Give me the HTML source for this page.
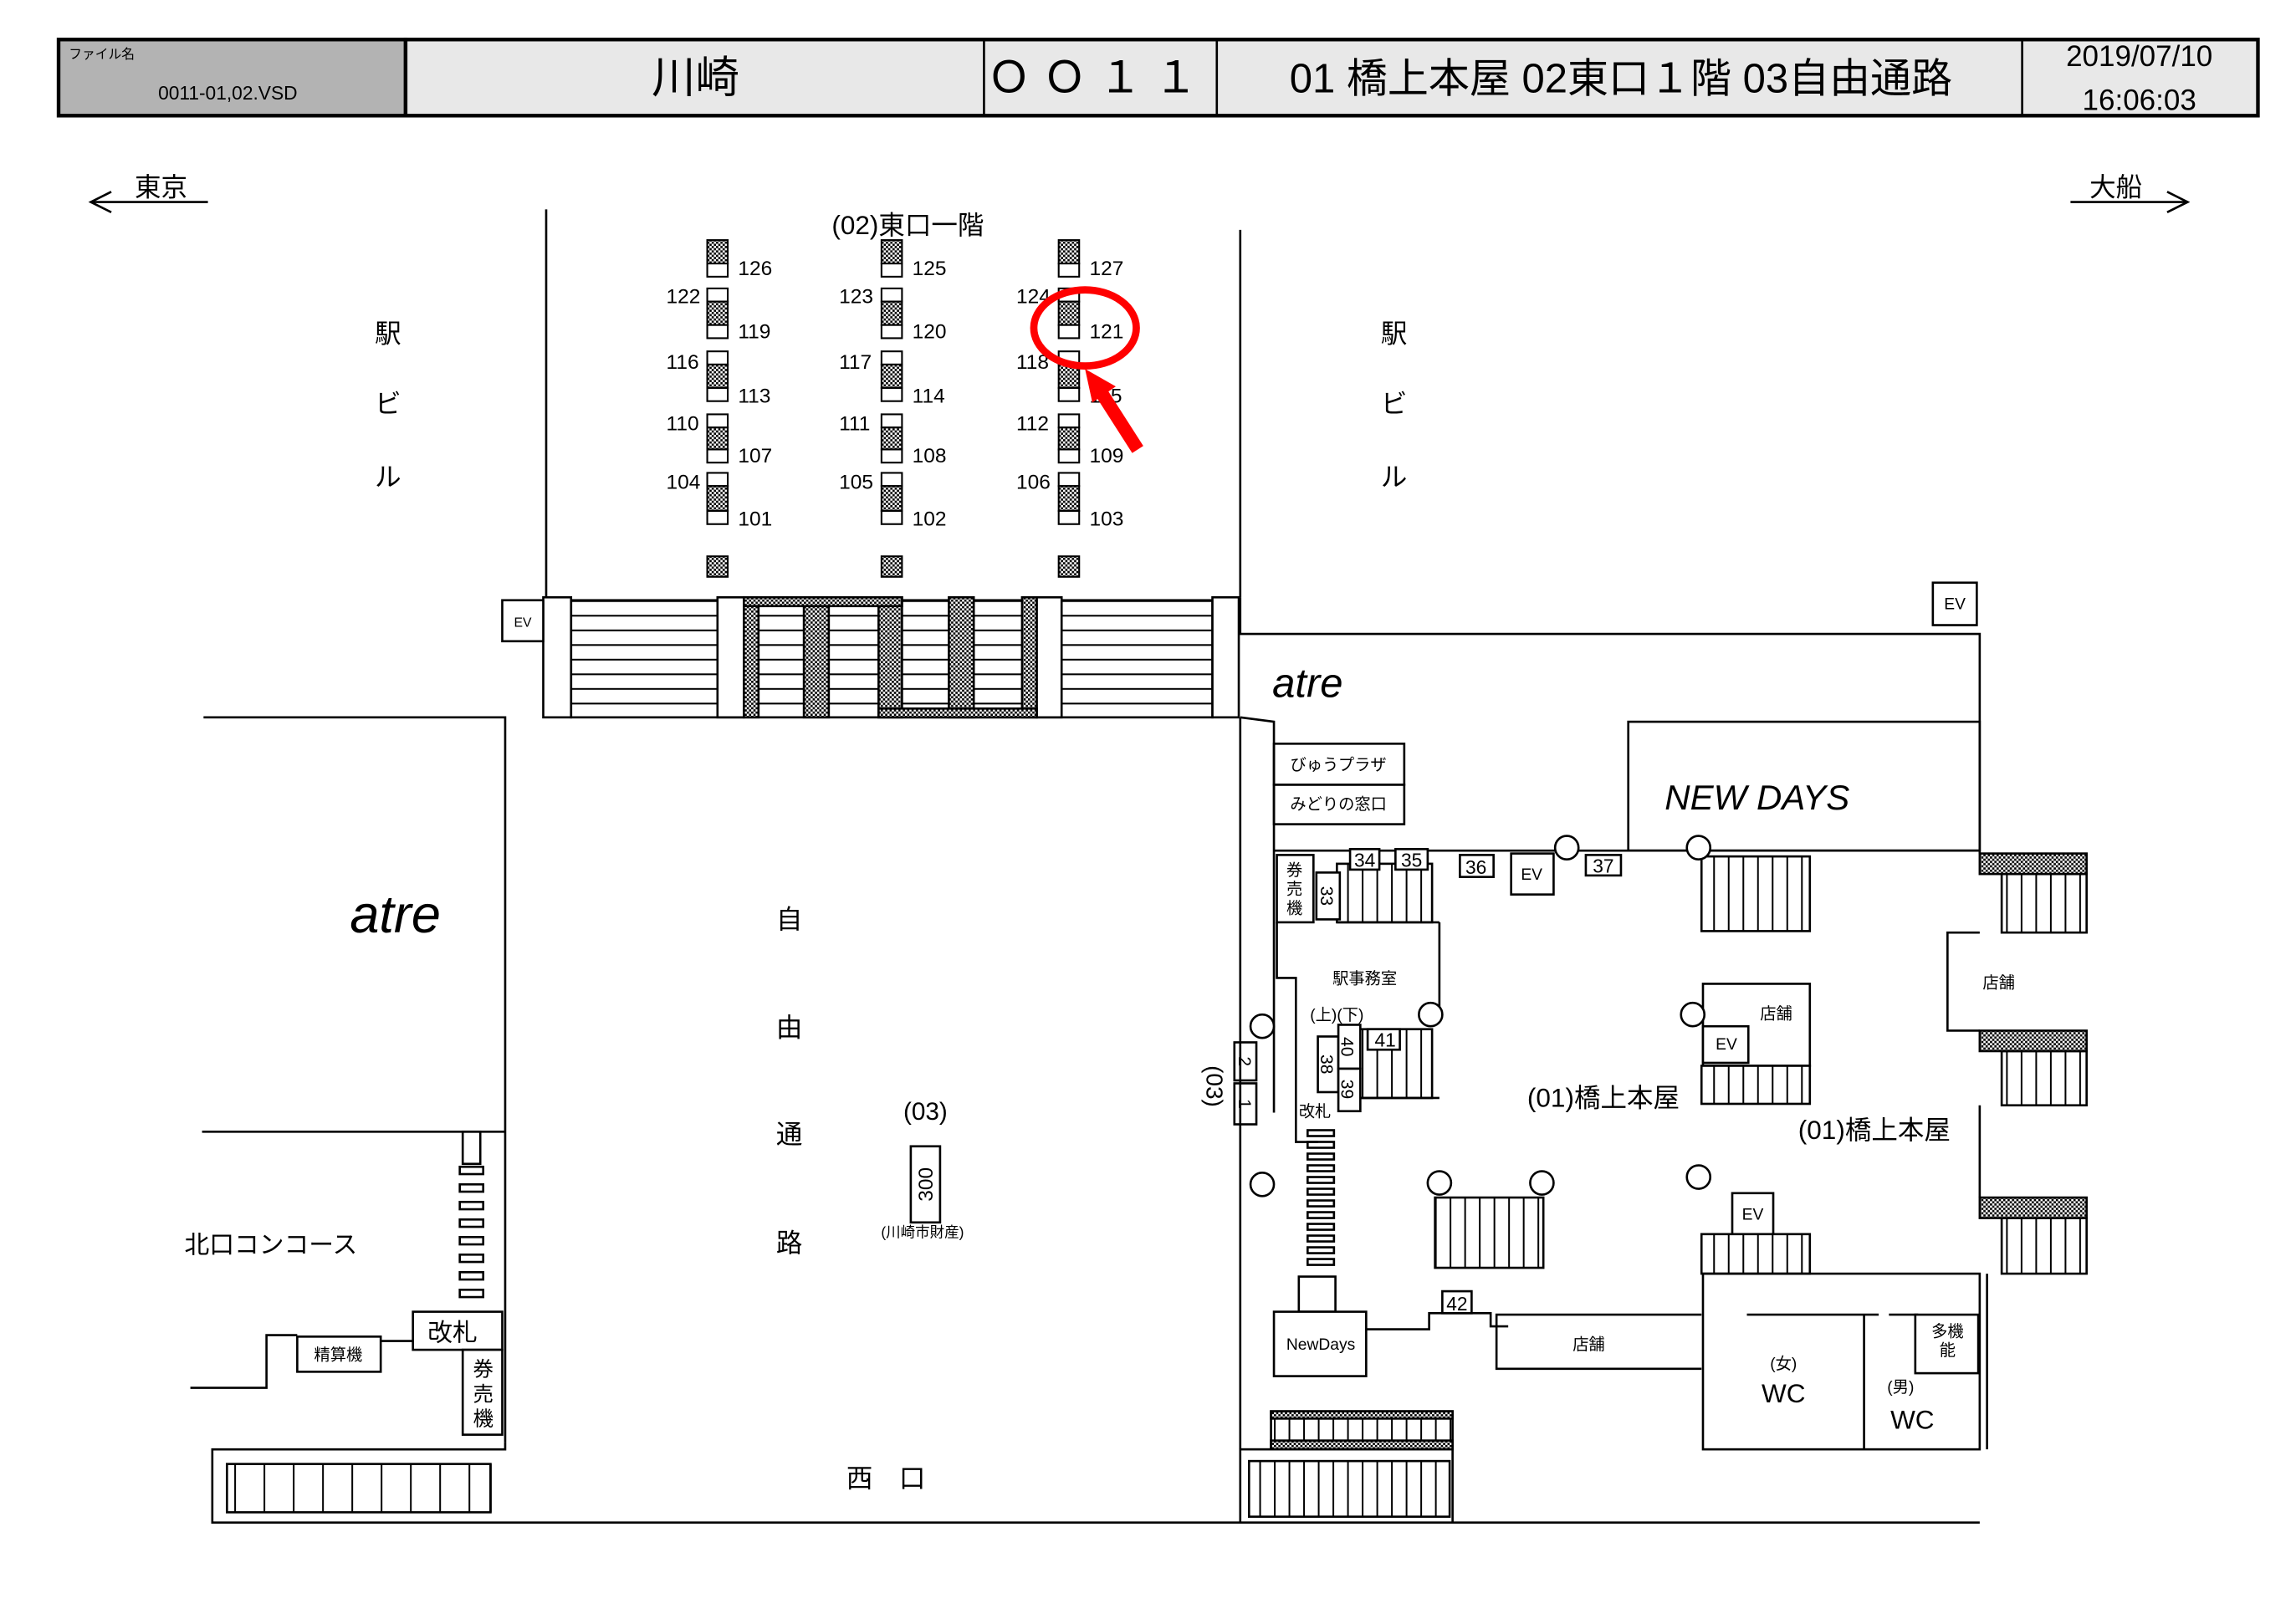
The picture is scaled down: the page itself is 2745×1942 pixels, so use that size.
<!DOCTYPE html>
<html><head><meta charset="utf-8"><style>
html,body{margin:0;padding:0;background:#fff}
svg{display:block}
text{font-family:"Liberation Sans","Noto Sans CJK JP",sans-serif;fill:#000}
</style></head><body>
<svg width="2745" height="1942" viewBox="0 0 1568 1109.3" xmlns="http://www.w3.org/2000/svg">
<defs>
<pattern id="vl" width="10" height="10" patternUnits="userSpaceOnUse"><rect width="10" height="10" fill="#fff"/><line x1="0.5" y1="0" x2="0.5" y2="10" stroke="#000" stroke-width="1.3"/></pattern>
<pattern id="vl2" width="20" height="10" patternUnits="userSpaceOnUse"><rect width="20" height="10" fill="#fff"/><line x1="0.5" y1="0" x2="0.5" y2="10" stroke="#000" stroke-width="1.3"/></pattern>
<pattern id="hl" width="10" height="10" patternUnits="userSpaceOnUse"><rect width="10" height="10" fill="#fff"/><line x1="0" y1="0.5" x2="10" y2="0.5" stroke="#000" stroke-width="1.3"/></pattern>
<pattern id="ht" width="3" height="3" patternUnits="userSpaceOnUse"><rect width="3" height="3" fill="#fff"/><rect width="1.5" height="1.5" fill="#000"/><rect x="1.5" y="1.5" width="1.5" height="1.5" fill="#000"/></pattern>
</defs>
<g stroke="#000" fill="none" stroke-width="1.5">
<rect x="40" y="27" width="237" height="52" fill="#b3b3b3" stroke-width="2.5"/>
<rect x="277" y="27" width="1265" height="52" fill="#e8e8e8" stroke-width="2.5"/>
<line x1="672" y1="27" x2="672" y2="79"/><line x1="831" y1="27" x2="831" y2="79"/><line x1="1381" y1="27" x2="1381" y2="79"/>
<line x1="62" y1="138" x2="142" y2="138"/><polyline points="76,131 62,138 76,145"/>
<line x1="1414" y1="138" x2="1494" y2="138"/><polyline points="1480,131 1494,138 1480,145"/>
<line x1="373" y1="143" x2="373" y2="408"/><line x1="847" y1="157" x2="847" y2="408"/>
</g>
<g font-size="9"><text x="47" y="40">ファイル名</text></g>
<text x="108" y="68" font-size="13">0011-01,02.VSD</text>
<text x="475" y="63" font-size="30" text-anchor="middle">川崎</text>
<text x="750" y="63" font-size="30" text-anchor="middle" letter-spacing="8">ＯＯ１１</text>
<text x="1107" y="63" font-size="28" text-anchor="middle">01 橋上本屋 02東口１階 03自由通路</text>
<text x="1461" y="45" font-size="20" text-anchor="middle">2019/07/10</text>
<text x="1461" y="75" font-size="20" text-anchor="middle">16:06:03</text>
<text x="110" y="134" font-size="18" text-anchor="middle">東京</text>
<text x="1445" y="134" font-size="18" text-anchor="middle">大船</text>
<text x="620" y="160" font-size="18" text-anchor="middle">(02)東口一階</text>
<g font-size="18" text-anchor="middle">
<text x="265" y="234">駅</text><text x="265" y="282">ビ</text><text x="265" y="332">ル</text>
<text x="952" y="234">駅</text><text x="952" y="282">ビ</text><text x="952" y="332">ル</text>
<text x="539" y="634">自</text><text x="539" y="708">由</text><text x="539" y="781">通</text><text x="539" y="855">路</text>
<text x="605" y="1016">西　口</text>
</g>
<g stroke="#000" stroke-width="1.2">
<g id="col">
<rect x="483" y="164" width="14" height="16" fill="url(#ht)"/><rect x="483" y="180" width="14" height="9" fill="#fff"/>
<rect x="483" y="197" width="14" height="9" fill="#fff"/><rect x="483" y="206" width="14" height="16" fill="url(#ht)"/><rect x="483" y="222" width="14" height="9" fill="#fff"/>
<rect x="483" y="240" width="14" height="9" fill="#fff"/><rect x="483" y="249" width="14" height="16" fill="url(#ht)"/><rect x="483" y="265" width="14" height="9" fill="#fff"/>
<rect x="483" y="283" width="14" height="9" fill="#fff"/><rect x="483" y="292" width="14" height="15" fill="url(#ht)"/><rect x="483" y="307" width="14" height="9" fill="#fff"/>
<rect x="483" y="323" width="14" height="9" fill="#fff"/><rect x="483" y="332" width="14" height="17" fill="url(#ht)"/><rect x="483" y="349" width="14" height="9" fill="#fff"/>
<rect x="483" y="380" width="14" height="14" fill="url(#ht)"/>
</g>
<use href="#col" x="119"/><use href="#col" x="240"/>
</g>
<g font-size="14">
<text x="504" y="188">126</text><text x="504" y="231">119</text><text x="504" y="275">113</text><text x="504" y="316">107</text><text x="504" y="359">101</text>
<text x="455" y="207">122</text><text x="455" y="252">116</text><text x="455" y="294">110</text><text x="455" y="334">104</text>
<text x="623" y="188">125</text><text x="623" y="231">120</text><text x="623" y="275">114</text><text x="623" y="316">108</text><text x="623" y="359">102</text>
<text x="573" y="207">123</text><text x="573" y="252">117</text><text x="573" y="294">111</text><text x="573" y="334">105</text>
<text x="744" y="188">127</text><text x="744" y="231">121</text><text x="744" y="275">115</text><text x="744" y="316">109</text><text x="744" y="359">103</text>
<text x="694" y="207">124</text><text x="694" y="252">118</text><text x="694" y="294">112</text><text x="694" y="334">106</text>
</g>
<ellipse cx="741" cy="224" rx="35" ry="26" fill="none" stroke="#f00" stroke-width="5"/>
<line x1="777" y1="307" x2="752" y2="268" stroke="#f00" stroke-width="9"/>
<polygon points="741,252 762,264 746,275" fill="#f00"/>
<g stroke="#000" stroke-width="1.5">
<rect x="390" y="410" width="438" height="80" fill="url(#hl)"/>
<rect x="371" y="408" width="19" height="82" fill="#fff"/>
<rect x="490" y="408" width="18" height="82" fill="#fff"/>
<rect x="708" y="408" width="17" height="82" fill="#fff"/>
<rect x="828" y="408" width="18" height="82" fill="#fff"/>
<rect x="508" y="408" width="10" height="82" fill="url(#ht)"/>
<rect x="549" y="408" width="17" height="82" fill="url(#ht)"/>
<rect x="600" y="408" width="16" height="82" fill="url(#ht)"/>
<rect x="648" y="408" width="17" height="82" fill="url(#ht)"/>
<rect x="698" y="408" width="10" height="82" fill="url(#ht)"/>
<rect x="508" y="408" width="108" height="6" fill="url(#ht)"/>
<rect x="600" y="484" width="108" height="6" fill="url(#ht)"/>
<rect x="343" y="410" width="28" height="28" fill="#fff"/>
</g>
<text x="357" y="428" font-size="9" text-anchor="middle">EV</text>
<g stroke="#000" stroke-width="1.5" fill="none">
<polyline points="139,490 345,490 345,985"/>
<line x1="138" y1="773" x2="345" y2="773"/>
<rect x="316" y="773" width="12" height="22"/>
<rect x="314" y="797" width="16" height="5"/><rect x="314" y="809" width="16" height="5"/><rect x="314" y="821" width="16" height="5"/><rect x="314" y="833" width="16" height="5"/><rect x="314" y="845" width="16" height="5"/><rect x="314" y="857" width="16" height="5"/><rect x="314" y="869" width="16" height="5"/><rect x="314" y="881" width="16" height="5"/>
<rect x="282" y="896" width="61" height="26" fill="#fff"/>
<rect x="316" y="922" width="27" height="58" fill="#fff"/>
<rect x="203" y="913" width="57" height="24"/>
<polyline points="130,948 182,948 182,912 203,912"/>
<line x1="260" y1="916" x2="282" y2="916"/>
<polyline points="345,985 345,990 145,990 145,1040 1352,1040"/>
<rect x="155" y="1000" width="180" height="33" fill="url(#vl2)"/>
<line x1="335" y1="1000" x2="335" y2="1033"/>
</g>
<text x="270" y="637" font-size="36" font-style="italic" text-anchor="middle">atre</text>
<text x="185" y="856" font-size="17" text-anchor="middle">北口コンコース</text>
<text x="309" y="916" font-size="17" text-anchor="middle">改札</text>
<g font-size="14" text-anchor="middle"><text x="330" y="940">券</text><text x="330" y="957">売</text><text x="330" y="974">機</text></g>
<text x="231" y="929" font-size="11" text-anchor="middle">精算機</text>
<text x="632" y="765" font-size="17" text-anchor="middle">(03)</text>
<rect x="622" y="783" width="20" height="52" fill="none" stroke="#000" stroke-width="1.5"/>
<text transform="translate(637,809) rotate(-90)" font-size="14" text-anchor="middle">300</text>
<text x="630" y="845" font-size="10" text-anchor="middle">(川崎市財産)</text>
<g stroke="#000" stroke-width="1.5" fill="none">
<polyline points="847,408 847,433 1352,433 1352,583"/>
<polyline points="847,490 870,493 870,760"/>
<line x1="847" y1="490" x2="847" y2="990"/>
<rect x="1320" y="398" width="30" height="29" fill="#fff"/>
<rect x="870" y="508" width="89" height="28"/><rect x="870" y="536" width="89" height="27"/>
<rect x="1112" y="493" width="240" height="88"/>
<line x1="870" y1="581" x2="1352" y2="581"/>
<rect x="872" y="584" width="25" height="46" fill="#fff"/>
<rect x="913" y="590" width="65" height="40" fill="url(#vl)"/>
<line x1="913" y1="630" x2="983" y2="630"/>
<polyline points="983,630 983,697"/>
<polyline points="872,630 872,668 885,668 885,780 900,780"/>
<rect x="922" y="580" width="20" height="14" fill="#fff"/><rect x="953" y="580" width="22" height="14" fill="#fff"/>
<rect x="997" y="584" width="23" height="15" fill="#fff"/>
<rect x="1032" y="583" width="29" height="28" fill="#fff"/>
<rect x="1083" y="584" width="24" height="14" fill="#fff"/>
<rect x="899" y="596" width="16" height="32" fill="#fff"/>
<rect x="1162" y="585" width="74" height="51" fill="url(#vl)"/>
<rect x="927" y="703" width="51" height="47" fill="url(#vl)"/>
<line x1="927" y1="750" x2="983" y2="750"/>
<rect x="934" y="703" width="22" height="14" fill="#fff"/>
<rect x="900" y="708" width="14" height="38" fill="#fff"/>
<rect x="914" y="700" width="15" height="30" fill="#fff"/>
<rect x="914" y="730" width="15" height="29" fill="#fff"/>
<rect x="843" y="712" width="15" height="26"/><rect x="843" y="740" width="15" height="28"/>
<rect x="893" y="772" width="18" height="4"/><rect x="893" y="780" width="18" height="4"/><rect x="893" y="788" width="18" height="4"/><rect x="893" y="796" width="18" height="4"/><rect x="893" y="804" width="18" height="4"/><rect x="893" y="812" width="18" height="4"/><rect x="893" y="820" width="18" height="4"/><rect x="893" y="828" width="18" height="4"/><rect x="893" y="836" width="18" height="4"/><rect x="893" y="844" width="18" height="4"/><rect x="893" y="852" width="18" height="4"/><rect x="893" y="860" width="18" height="4"/>
<rect x="887" y="872" width="25" height="24"/>
<rect x="870" y="896" width="63" height="44" fill="#fff"/>
<polyline points="933,908 976,908 976,897 1018,897 1018,906 1030,906"/>
<rect x="985" y="882" width="20" height="15" fill="#fff"/>
<polyline points="1162,898 1022,898 1022,935 1162,935"/>
<rect x="980" y="818" width="74" height="48" fill="url(#vl)"/>
<rect x="1163" y="672" width="73" height="56" fill="#fff"/>
<rect x="1163" y="701" width="31" height="25" fill="#fff"/>
<rect x="1162" y="728" width="74" height="26" fill="url(#vl)"/>
<rect x="1183" y="815" width="28" height="28" fill="#fff"/>
<rect x="1162" y="843" width="74" height="27" fill="url(#vl)"/>
<rect x="1163" y="870" width="189" height="120"/>
<line x1="1273" y1="898" x2="1273" y2="990"/>
<line x1="1193" y1="898" x2="1283" y2="898"/>
<line x1="1290" y1="898" x2="1310" y2="898"/>
<rect x="1308" y="898" width="43" height="40" fill="#fff"/>
<line x1="1357" y1="870" x2="1357" y2="990"/>
<polyline points="1352,637 1330,637 1330,704 1352,704"/>
<line x1="1352" y1="755" x2="1352" y2="818"/>
<rect x="1367" y="597" width="58" height="40" fill="url(#vl)"/>
<rect x="1352" y="583" width="73" height="14" fill="url(#ht)"/>
<rect x="1367" y="718" width="58" height="37" fill="url(#vl)"/>
<rect x="1352" y="704" width="73" height="14" fill="url(#ht)"/>
<rect x="1367" y="832" width="58" height="38" fill="url(#vl)"/>
<rect x="1352" y="818" width="73" height="14" fill="url(#ht)"/>
<rect x="868" y="964" width="124" height="26" fill="url(#vl)"/>
<rect x="868" y="964" width="124" height="5" fill="url(#ht)"/>
<rect x="868" y="984" width="124" height="6" fill="url(#ht)"/>
<rect x="847" y="990" width="145" height="50" fill="#fff"/>
<rect x="853" y="998" width="137" height="38" fill="url(#vl)"/>
<circle cx="1070" cy="579" r="8" fill="#fff"/><circle cx="1160" cy="579" r="8" fill="#fff"/>
<circle cx="977" cy="693" r="8" fill="#fff"/><circle cx="862" cy="701" r="8" fill="#fff"/>
<circle cx="1156" cy="693" r="8" fill="#fff"/><circle cx="862" cy="809" r="8" fill="#fff"/>
<circle cx="983" cy="808" r="8" fill="#fff"/><circle cx="1053" cy="808" r="8" fill="#fff"/>
<circle cx="1160" cy="804" r="8" fill="#fff"/>
</g>
<text x="893" y="476" font-size="28" font-style="italic" text-anchor="middle">atre</text>
<text x="1200" y="553" font-size="24" font-style="italic" text-anchor="middle">NEW DAYS</text>
<g font-size="11" text-anchor="middle">
<text x="914" y="526">びゅうプラザ</text><text x="914" y="553">みどりの窓口</text>
<text x="1046" y="601">EV</text><text x="1335" y="416">EV</text><text x="1179" y="717">EV</text><text x="1197" y="833">EV</text>
<text x="932" y="672">駅事務室</text><text x="913" y="697">(上)(下)</text><text x="898" y="763">改札</text>
<text x="1213" y="696">店舗</text><text x="1365" y="675">店舗</text><text x="1085" y="922">店舗</text>
<text x="902" y="922">NewDays</text>
<text x="1330" y="913">多機</text><text x="1330" y="926">能</text>
<text x="1218" y="935">(女)</text><text x="1298" y="951">(男)</text>
<text x="884" y="598">券</text><text x="884" y="611">売</text><text x="884" y="624">機</text>
</g>
<g font-size="13" text-anchor="middle">
<text x="932" y="592">34</text><text x="964" y="592">35</text><text x="1008" y="597">36</text><text x="1095" y="596">37</text>
<text x="946" y="715">41</text><text x="995" y="895">42</text>
</g>
<g font-size="12" text-anchor="middle">
<text transform="translate(902,612) rotate(90)">33</text>
<text transform="translate(902,727) rotate(90)">38</text>
<text transform="translate(916,715) rotate(90)">40</text>
<text transform="translate(916,744) rotate(90)">39</text>
<text transform="translate(846,725) rotate(90)">2</text>
<text transform="translate(846,754) rotate(90)">1</text>
</g>
<text transform="translate(824,742) rotate(90)" font-size="16" text-anchor="middle">(03)</text>
<g font-size="18" text-anchor="middle">
<text x="1218" y="958">WC</text><text x="1306" y="976">WC</text>
<text x="1095" y="756">(01)橋上本屋</text><text x="1280" y="778">(01)橋上本屋</text>
</g>
</svg>
</body></html>
